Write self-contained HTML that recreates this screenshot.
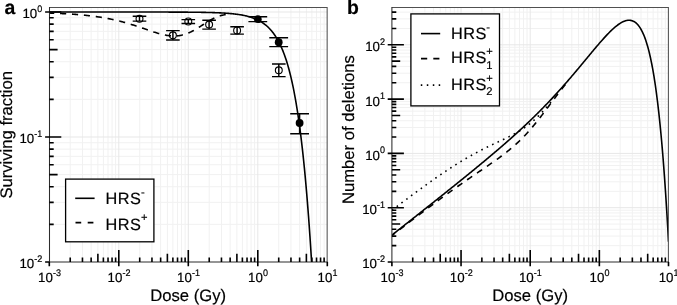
<!DOCTYPE html>
<html lang="en"><head><meta charset="utf-8"><title>HRS figure</title>
<style>
html,body{margin:0;padding:0;background:#fff}
svg{display:block}
text{font-family:"Liberation Sans",sans-serif;fill:#000;stroke:#000;stroke-width:0.18;text-rendering:geometricPrecision}
.g1{stroke:#f1f1f1;stroke-width:1}
.g2{stroke:#e7e7e7;stroke-width:1}
.tk{stroke:#000;stroke-width:1.6}
.cv{fill:none;stroke:#000;stroke-width:1.6;stroke-linejoin:round}
.eb{stroke:#000;stroke-width:1.45;fill:none}
</style></head><body>

<svg width="677" height="305" viewBox="0 0 677 305">
<rect width="677" height="305" fill="#fff"/>

<g id="pa">
<clipPath id="clip-pa"><rect x="49.3" y="7.5" width="278" height="254.5"/></clipPath>
<path class="g1" d="M70.22 7.5V262M82.46 7.5V262M91.14 7.5V262M97.88 7.5V262M103.38 7.5V262M108.03 7.5V262M112.06 7.5V262M115.62 7.5V262M139.72 7.5V262M151.96 7.5V262M160.64 7.5V262M167.38 7.5V262M172.88 7.5V262M177.53 7.5V262M181.56 7.5V262M185.12 7.5V262M209.22 7.5V262M221.46 7.5V262M230.14 7.5V262M236.88 7.5V262M242.38 7.5V262M247.03 7.5V262M251.06 7.5V262M254.62 7.5V262M278.72 7.5V262M290.96 7.5V262M299.64 7.5V262M306.38 7.5V262M311.88 7.5V262M316.53 7.5V262M320.56 7.5V262M324.12 7.5V262M49.3 224.37H327.3M49.3 202.36H327.3M49.3 186.74H327.3M49.3 174.63H327.3M49.3 164.73H327.3M49.3 156.36H327.3M49.3 149.11H327.3M49.3 142.72H327.3M49.3 99.37H327.3M49.3 77.36H327.3M49.3 61.74H327.3M49.3 49.63H327.3M49.3 39.73H327.3M49.3 31.36H327.3M49.3 24.11H327.3M49.3 17.72H327.3"/>
<path class="g2" d="M118.8 7.5V262M188.3 7.5V262M257.8 7.5V262M49.3 137H327.3M49.3 12H327.3"/>
<g clip-path="url(#clip-pa)">
<path class="cv" d="M49.3 12L49.99 12L50.69 12L51.38 12L52.08 12L52.77 12L53.47 12L54.16 12L54.86 12L55.55 12L56.25 12L56.94 12L57.64 12L58.33 12L59.03 12L59.72 12L60.42 12L61.11 12L61.81 12L62.5 12L63.2 12L63.89 12L64.59 12L65.28 12L65.98 12L66.67 12L67.37 12L68.06 12L68.76 12L69.45 12L70.15 12L70.84 12L71.54 12L72.23 12L72.93 12L73.62 12L74.32 12L75.02 12L75.71 12L76.41 12L77.1 12L77.8 12L78.49 12L79.19 12L79.88 12L80.58 12L81.27 12L81.97 12L82.66 12L83.36 12L84.05 12L84.74 12L85.44 12L86.14 12L86.83 12L87.52 12L88.22 12L88.92 12L89.61 12L90.3 12L91 12L91.69 12L92.39 12L93.08 12L93.78 12L94.47 12L95.17 12.01L95.86 12.01L96.56 12.01L97.25 12.01L97.95 12.01L98.64 12.01L99.34 12.01L100.03 12.01L100.73 12.01L101.42 12.01L102.12 12.01L102.81 12.01L103.51 12.01L104.2 12.01L104.9 12.01L105.59 12.01L106.29 12.01L106.98 12.01L107.68 12.01L108.38 12.01L109.07 12.01L109.77 12.01L110.46 12.01L111.16 12.01L111.85 12.01L112.55 12.01L113.24 12.01L113.94 12.01L114.63 12.01L115.33 12.01L116.02 12.01L116.71 12.01L117.41 12.01L118.11 12.01L118.8 12.01L119.5 12.01L120.19 12.01L120.89 12.01L121.58 12.01L122.28 12.01L122.97 12.01L123.67 12.01L124.36 12.01L125.06 12.01L125.75 12.01L126.45 12.02L127.14 12.02L127.84 12.02L128.53 12.02L129.23 12.02L129.92 12.02L130.62 12.02L131.31 12.02L132 12.02L132.7 12.02L133.39 12.02L134.09 12.02L134.78 12.02L135.48 12.02L136.18 12.02L136.87 12.02L137.56 12.02L138.26 12.02L138.95 12.02L139.65 12.02L140.34 12.03L141.04 12.03L141.74 12.03L142.43 12.03L143.12 12.03L143.82 12.03L144.51 12.03L145.21 12.03L145.91 12.03L146.6 12.03L147.29 12.03L147.99 12.03L148.69 12.03L149.38 12.04L150.07 12.04L150.77 12.04L151.46 12.04L152.16 12.04L152.85 12.04L153.55 12.04L154.25 12.04L154.94 12.04L155.63 12.04L156.33 12.05L157.03 12.05L157.72 12.05L158.42 12.05L159.11 12.05L159.81 12.05L160.5 12.05L161.19 12.06L161.89 12.06L162.59 12.06L163.28 12.06L163.98 12.06L164.67 12.06L165.37 12.07L166.06 12.07L166.75 12.07L167.45 12.07L168.14 12.07L168.84 12.08L169.53 12.08L170.23 12.08L170.93 12.08L171.62 12.09L172.31 12.09L173.01 12.09L173.7 12.09L174.4 12.1L175.09 12.1L175.79 12.1L176.49 12.1L177.18 12.11L177.88 12.11L178.57 12.11L179.26 12.12L179.96 12.12L180.66 12.13L181.35 12.13L182.05 12.13L182.74 12.14L183.44 12.14L184.13 12.15L184.82 12.15L185.52 12.16L186.21 12.16L186.91 12.17L187.61 12.17L188.3 12.18L189 12.18L189.69 12.19L190.38 12.2L191.08 12.2L191.77 12.21L192.47 12.22L193.16 12.22L193.86 12.23L194.56 12.24L195.25 12.25L195.94 12.25L196.64 12.26L197.33 12.27L198.03 12.28L198.72 12.29L199.42 12.3L200.12 12.31L200.81 12.32L201.5 12.33L202.2 12.35L202.89 12.36L203.59 12.37L204.28 12.38L204.98 12.4L205.68 12.41L206.37 12.43L207.06 12.44L207.76 12.46L208.45 12.47L209.15 12.49L209.85 12.51L210.54 12.53L211.24 12.55L211.93 12.57L212.62 12.59L213.32 12.61L214.01 12.63L214.71 12.66L215.41 12.68L216.1 12.71L216.8 12.73L217.49 12.76L218.19 12.79L218.88 12.82L219.57 12.85L220.27 12.89L220.97 12.92L221.66 12.96L222.36 12.99L223.05 13.03L223.75 13.07L224.44 13.12L225.13 13.16L225.83 13.21L226.53 13.25L227.22 13.3L227.91 13.36L228.61 13.41L229.31 13.47L230 13.52L230.69 13.59L231.39 13.65L232.08 13.72L232.78 13.79L233.47 13.86L234.17 13.94L234.87 14.02L235.56 14.1L236.25 14.19L236.95 14.28L237.64 14.37L238.34 14.47L239.03 14.57L239.73 14.68L240.43 14.79L241.12 14.91L241.81 15.03L242.51 15.16L243.2 15.29L243.9 15.43L244.6 15.58L245.29 15.73L245.99 15.89L246.68 16.05L247.38 16.22L248.07 16.4L248.76 16.59L249.46 16.79L250.16 17L250.85 17.21L251.55 17.44L252.24 17.67L252.94 17.92L253.63 18.18L254.32 18.44L255.02 18.72L255.72 19.02L256.41 19.32L257.11 19.65L257.8 19.98L258.5 20.33L259.19 20.7L259.88 21.08L260.58 21.48L261.28 21.9L261.97 22.34L262.67 22.79L263.36 23.27L264.06 23.77L264.75 24.29L265.44 24.84L266.14 25.41L266.83 26.01L267.53 26.64L268.22 27.29L268.92 27.97L269.62 28.69L270.31 29.44L271 30.22L271.7 31.04L272.39 31.9L273.09 32.79L273.78 33.73L274.48 34.71L275.18 35.73L275.87 36.81L276.56 37.93L277.26 39.1L277.95 40.33L278.65 41.61L279.35 42.96L280.04 44.36L280.74 45.83L281.43 47.37L282.12 48.98L282.82 50.67L283.51 52.43L284.21 54.28L284.91 56.21L285.6 58.23L286.3 60.34L286.99 62.55L287.69 64.87L288.38 67.29L289.07 69.82L289.77 72.48L290.47 75.25L291.16 78.16L291.86 81.2L292.55 84.38L293.25 87.71L293.94 91.19L294.63 94.84L295.33 98.65L296.03 102.65L296.72 106.83L297.42 111.2L298.11 115.78L298.81 120.58L299.5 125.59L300.19 130.84L300.89 136.34L301.58 142.09L302.28 148.11L302.97 154.41L303.67 161.01L304.37 167.91L305.06 175.14L305.75 182.7L306.45 190.62L307.14 198.91L307.84 207.59L308.54 216.67L309.23 226.17L309.93 236.13L310.62 246.54L311.31 257.45L312.01 268.86L312.71 280.81L313.4 293.32"/>
<path class="cv" stroke-dasharray="6.15 5.8" stroke-dashoffset="1.2" d="M49.3 13.03L49.99 13.05L50.69 13.08L51.38 13.1L52.08 13.13L52.77 13.15L53.47 13.18L54.16 13.21L54.86 13.24L55.55 13.26L56.25 13.29L56.94 13.32L57.64 13.35L58.33 13.38L59.03 13.41L59.72 13.45L60.42 13.48L61.11 13.51L61.81 13.55L62.5 13.58L63.2 13.62L63.89 13.66L64.59 13.69L65.28 13.73L65.98 13.77L66.67 13.81L67.37 13.85L68.06 13.89L68.76 13.94L69.45 13.98L70.15 14.02L70.84 14.07L71.54 14.12L72.23 14.16L72.93 14.21L73.62 14.26L74.32 14.31L75.02 14.37L75.71 14.42L76.41 14.47L77.1 14.53L77.8 14.58L78.49 14.64L79.19 14.7L79.88 14.76L80.58 14.82L81.27 14.88L81.97 14.95L82.66 15.01L83.36 15.08L84.05 15.15L84.74 15.22L85.44 15.29L86.14 15.36L86.83 15.44L87.52 15.51L88.22 15.59L88.92 15.67L89.61 15.75L90.3 15.83L91 15.91L91.69 16L92.39 16.08L93.08 16.17L93.78 16.26L94.47 16.36L95.17 16.45L95.86 16.55L96.56 16.64L97.25 16.74L97.95 16.84L98.64 16.95L99.34 17.05L100.03 17.16L100.73 17.27L101.42 17.38L102.12 17.5L102.81 17.61L103.51 17.73L104.2 17.85L104.9 17.97L105.59 18.1L106.29 18.22L106.98 18.35L107.68 18.48L108.38 18.62L109.07 18.75L109.77 18.89L110.46 19.03L111.16 19.18L111.85 19.32L112.55 19.47L113.24 19.62L113.94 19.78L114.63 19.93L115.33 20.09L116.02 20.25L116.71 20.41L117.41 20.58L118.11 20.75L118.8 20.92L119.5 21.09L120.19 21.27L120.89 21.45L121.58 21.63L122.28 21.81L122.97 22L123.67 22.19L124.36 22.38L125.06 22.57L125.75 22.77L126.45 22.97L127.14 23.17L127.84 23.37L128.53 23.58L129.23 23.79L129.92 24L130.62 24.21L131.31 24.43L132 24.65L132.7 24.87L133.39 25.09L134.09 25.31L134.78 25.54L135.48 25.76L136.18 25.99L136.87 26.22L137.56 26.46L138.26 26.69L138.95 26.92L139.65 27.16L140.34 27.4L141.04 27.64L141.74 27.88L142.43 28.12L143.12 28.36L143.82 28.6L144.51 28.84L145.21 29.08L145.91 29.32L146.6 29.56L147.29 29.81L147.99 30.05L148.69 30.28L149.38 30.52L150.07 30.76L150.77 30.99L151.46 31.23L152.16 31.46L152.85 31.69L153.55 31.92L154.25 32.14L154.94 32.36L155.63 32.58L156.33 32.79L157.03 33L157.72 33.21L158.42 33.41L159.11 33.6L159.81 33.79L160.5 33.98L161.19 34.16L161.89 34.33L162.59 34.5L163.28 34.66L163.98 34.81L164.67 34.95L165.37 35.09L166.06 35.22L166.75 35.34L167.45 35.45L168.14 35.55L168.84 35.64L169.53 35.72L170.23 35.79L170.93 35.85L171.62 35.89L172.31 35.93L173.01 35.95L173.7 35.97L174.4 35.96L175.09 35.95L175.79 35.93L176.49 35.89L177.18 35.83L177.88 35.77L178.57 35.68L179.26 35.59L179.96 35.48L180.66 35.36L181.35 35.22L182.05 35.07L182.74 34.9L183.44 34.72L184.13 34.52L184.82 34.31L185.52 34.08L186.21 33.84L186.91 33.59L187.61 33.32L188.3 33.04L189 32.74L189.69 32.43L190.38 32.11L191.08 31.78L191.77 31.43L192.47 31.08L193.16 30.71L193.86 30.33L194.56 29.94L195.25 29.54L195.94 29.14L196.64 28.72L197.33 28.3L198.03 27.87L198.72 27.44L199.42 27L200.12 26.56L200.81 26.11L201.5 25.67L202.2 25.22L202.89 24.77L203.59 24.32L204.28 23.87L204.98 23.43L205.68 22.98L206.37 22.55L207.06 22.11L207.76 21.68L208.45 21.26L209.15 20.85L209.85 20.45L210.54 20.05L211.24 19.66L211.93 19.29L212.62 18.92L213.32 18.57L214.01 18.23L214.71 17.9L215.41 17.58L216.1 17.28L216.8 16.99L217.49 16.72L218.19 16.46L218.88 16.21L219.57 15.98L220.27 15.77L220.97 15.57L221.66 15.38L222.36 15.21L223.05 15.05L223.75 14.91L224.44 14.78L225.13 14.66L225.83 14.56"/>
</g>
<path class="eb" d="M139.5 16.3V21.1M132.7 16.3H146.3M132.7 21.1H146.3M172.9 30.6V40M166.1 30.6H179.7M166.1 40H179.7M188.3 19.6V23.4M181.5 19.6H195.1M181.5 23.4H195.1M209.1 20.2V29.1M202.3 20.2H215.9M202.3 29.1H215.9M237.1 26.8V34.1M230.3 26.8H243.9M230.3 34.1H243.9M278.8 64V76.6M272 64H285.6M272 76.6H285.6M257.8 16.8V21.6M248.4 16.8H267.2M248.4 21.6H267.2M278.7 37.8V46.6M269.3 37.8H288.1M269.3 46.6H288.1M299.6 113.8V133.7M290.2 113.8H309M290.2 133.7H309"/>
<circle cx="139.5" cy="18.8" r="3.45" fill="none" stroke="#000" stroke-width="1.1"/>
<circle cx="172.9" cy="35.3" r="3.45" fill="none" stroke="#000" stroke-width="1.1"/>
<circle cx="188.3" cy="21.5" r="3.45" fill="none" stroke="#000" stroke-width="1.1"/>
<circle cx="209.1" cy="24.6" r="3.45" fill="none" stroke="#000" stroke-width="1.1"/>
<circle cx="237.1" cy="30.5" r="3.45" fill="none" stroke="#000" stroke-width="1.1"/>
<circle cx="278.8" cy="70.3" r="3.45" fill="none" stroke="#000" stroke-width="1.1"/>
<circle cx="257.8" cy="19.2" r="3.9" fill="#000"/>
<circle cx="278.7" cy="42.2" r="3.9" fill="#000"/>
<circle cx="299.6" cy="123" r="3.9" fill="#000"/>
<path d="M49.5 7.5H327.15V262" fill="none" stroke="#505050" stroke-width="1.05"/>
<path d="M49.5 7V262H327.65" fill="none" stroke="#2c2c2c" stroke-width="1.05"/>
<path class="tk" d="M49.3 266.2V262M70.22 262V257.6M82.46 262V257.6M91.14 262V257.6M97.88 262V253.7M103.38 262V257.6M108.03 262V257.6M112.06 262V257.6M115.62 262V257.6M118.8 266.2V250M139.72 262V257.6M151.96 262V257.6M160.64 262V257.6M167.38 262V253.7M172.88 262V257.6M177.53 262V257.6M181.56 262V257.6M185.12 262V257.6M188.3 266.2V250M209.22 262V257.6M221.46 262V257.6M230.14 262V257.6M236.88 262V253.7M242.38 262V257.6M247.03 262V257.6M251.06 262V257.6M254.62 262V257.6M257.8 266.2V250M278.72 262V257.6M290.96 262V257.6M299.64 262V257.6M306.38 262V253.7M311.88 262V257.6M316.53 262V257.6M320.56 262V257.6M324.12 262V257.6M327.3 266.2V262M45.1 262H49.3M49.3 224.37H53.7M49.3 202.36H53.7M49.3 186.74H53.7M49.3 174.63H57.6M49.3 164.73H53.7M49.3 156.36H53.7M49.3 149.11H53.7M49.3 142.72H53.7M45.1 137H61.3M49.3 99.37H53.7M49.3 77.36H53.7M49.3 61.74H53.7M49.3 49.63H57.6M49.3 39.73H53.7M49.3 31.36H53.7M49.3 24.11H53.7M49.3 17.72H53.7M45.1 12H61.3"/>
<rect x="65.6" y="179.1" width="88.3" height="62.7" fill="#fff" stroke="#000" stroke-width="1.3"/>
<path class="cv" d="M75.2 198.3H94.6"/>
<path class="cv" d="M75.5 222.6H81.2M87.7 222.6H93.4"/>
<text x="105.5" y="204.3" font-size="16.3" letter-spacing="0.5">HRS<tspan font-size="11.2" x="140.9" dy="-8.5">-</tspan></text>
<text x="105.5" y="229.5" font-size="16.3" letter-spacing="0.5">HRS<tspan font-size="11.2" x="140.9" dy="-8.2">+</tspan></text>
<text x="38" y="281.9" font-size="13.3">10</text><text transform="translate(52.89 276.2) scale(1 1.06)" font-size="9.0">-3</text>
<text x="107.5" y="281.9" font-size="13.3">10</text><text transform="translate(122.39 276.2) scale(1 1.06)" font-size="9.0">-2</text>
<text x="177" y="281.9" font-size="13.3">10</text><text transform="translate(191.89 276.2) scale(1 1.06)" font-size="9.0">-1</text>
<text x="248" y="281.9" font-size="13.3">10</text><text transform="translate(262.89 276.2) scale(1 1.06)" font-size="9.0">0</text>
<text x="317.5" y="281.9" font-size="13.3">10</text><text transform="translate(332.39 276.2) scale(1 1.06)" font-size="9.0">1</text>
<text x="19.41" y="268.4" font-size="13.3">10</text><text transform="translate(34.3 261.8) scale(1 1.06)" font-size="9.0">-2</text>
<text x="19.41" y="143.4" font-size="13.3">10</text><text transform="translate(34.3 136.8) scale(1 1.06)" font-size="9.0">-1</text>
<text x="22.41" y="18.4" font-size="13.3">10</text><text transform="translate(37.3 11.8) scale(1 1.06)" font-size="9.0">0</text>
<text x="188.1" y="301.1" font-size="16.65" text-anchor="middle">Dose (Gy)</text>
<text transform="translate(12.3 134.8) rotate(-90)" font-size="16.65" text-anchor="middle">Surviving fraction</text>
<text x="4.4" y="13.7" font-size="19.4" font-weight="bold">a</text>
</g>
<g id="pb">
<clipPath id="clip-pb"><rect x="391.9" y="7.4" width="276.5" height="254.6"/></clipPath>
<path class="g1" d="M412.72 7.4V262M424.89 7.4V262M433.53 7.4V262M440.23 7.4V262M445.71 7.4V262M450.34 7.4V262M454.35 7.4V262M457.89 7.4V262M481.87 7.4V262M494.04 7.4V262M502.68 7.4V262M509.38 7.4V262M514.86 7.4V262M519.49 7.4V262M523.5 7.4V262M527.04 7.4V262M551.02 7.4V262M563.19 7.4V262M571.83 7.4V262M578.53 7.4V262M584.01 7.4V262M588.64 7.4V262M592.65 7.4V262M596.19 7.4V262M620.17 7.4V262M632.34 7.4V262M640.98 7.4V262M647.68 7.4V262M653.16 7.4V262M657.79 7.4V262M661.8 7.4V262M665.34 7.4V262M391.9 245.65H668.4M391.9 236.09H668.4M391.9 229.31H668.4M391.9 224.05H668.4M391.9 219.75H668.4M391.9 216.11H668.4M391.9 212.96H668.4M391.9 210.18H668.4M391.9 191.35H668.4M391.9 181.79H668.4M391.9 175.01H668.4M391.9 169.75H668.4M391.9 165.45H668.4M391.9 161.81H668.4M391.9 158.66H668.4M391.9 155.88H668.4M391.9 137.05H668.4M391.9 127.49H668.4M391.9 120.71H668.4M391.9 115.45H668.4M391.9 111.15H668.4M391.9 107.51H668.4M391.9 104.36H668.4M391.9 101.58H668.4M391.9 82.75H668.4M391.9 73.19H668.4M391.9 66.41H668.4M391.9 61.15H668.4M391.9 56.85H668.4M391.9 53.21H668.4M391.9 50.06H668.4M391.9 47.28H668.4M391.9 28.45H668.4M391.9 18.89H668.4M391.9 12.11H668.4"/>
<path class="g2" d="M461.05 7.4V262M530.2 7.4V262M599.35 7.4V262M391.9 207.7H668.4M391.9 153.4H668.4M391.9 99.1H668.4M391.9 44.8H668.4"/>
<g clip-path="url(#clip-pb)">
<path class="cv" stroke-dasharray="1.6 4.4" d="M391.9 210.33L392.59 209.8L393.28 209.28L393.97 208.75L394.67 208.22L395.36 207.7L396.05 207.17L396.74 206.65L397.43 206.12L398.12 205.6L398.81 205.07L399.51 204.55L400.2 204.03L400.89 203.5L401.58 202.98L402.27 202.46L402.96 201.94L403.66 201.42L404.35 200.9L405.04 200.38L405.73 199.86L406.42 199.34L407.11 198.82L407.8 198.3L408.5 197.79L409.19 197.27L409.88 196.75L410.57 196.24L411.26 195.72L411.95 195.21L412.64 194.7L413.34 194.18L414.03 193.67L414.72 193.16L415.41 192.65L416.1 192.14L416.79 191.63L417.49 191.12L418.18 190.61L418.87 190.11L419.56 189.6L420.25 189.1L420.94 188.59L421.63 188.09L422.33 187.58L423.02 187.08L423.71 186.58L424.4 186.08L425.09 185.58L425.78 185.08L426.47 184.59L427.17 184.09L427.86 183.59L428.55 183.1L429.24 182.61L429.93 182.11L430.62 181.62L431.32 181.13L432.01 180.64L432.7 180.15L433.39 179.67L434.08 179.18L434.77 178.7L435.46 178.21L436.16 177.73L436.85 177.25L437.54 176.77L438.23 176.29L438.92 175.82L439.61 175.34L440.31 174.87L441 174.4L441.69 173.93L442.38 173.46L443.07 172.99L443.76 172.52L444.45 172.06L445.15 171.59L445.84 171.13L446.53 170.67L447.22 170.21L447.91 169.75L448.6 169.3L449.29 168.84L449.99 168.39L450.68 167.94L451.37 167.49L452.06 167.05L452.75 166.6L453.44 166.16L454.13 165.72L454.83 165.28L455.52 164.84L456.21 164.41L456.9 163.97L457.59 163.54L458.28 163.11L458.98 162.68L459.67 162.26L460.36 161.84L461.05 161.41L461.74 161L462.43 160.58L463.12 160.16L463.82 159.75L464.51 159.34L465.2 158.93L465.89 158.53L466.58 158.12L467.27 157.72L467.96 157.32L468.66 156.93L469.35 156.53L470.04 156.14L470.73 155.75L471.42 155.36L472.11 154.98L472.81 154.59L473.5 154.21L474.19 153.83L474.88 153.46L475.57 153.08L476.26 152.71L476.95 152.34L477.65 151.98L478.34 151.61L479.03 151.25L479.72 150.89L480.41 150.53L481.1 150.17L481.79 149.82L482.49 149.47L483.18 149.12L483.87 148.77L484.56 148.42L485.25 148.08L485.94 147.74L486.64 147.4L487.33 147.06L488.02 146.72L488.71 146.38L489.4 146.05L490.09 145.72L490.78 145.39L491.48 145.06L492.17 144.73L492.86 144.4L493.55 144.07L494.24 143.75L494.93 143.42L495.62 143.1L496.32 142.77L497.01 142.45L497.7 142.13L498.39 141.8L499.08 141.48L499.77 141.16L500.47 140.83L501.16 140.51L501.85 140.18L502.54 139.86L503.23 139.53L503.92 139.2L504.61 138.87L505.31 138.54L506 138.2L506.69 137.87L507.38 137.53L508.07 137.19L508.76 136.85L509.45 136.5L510.15 136.15L510.84 135.8L511.53 135.44L512.22 135.08L512.91 134.71L513.6 134.34L514.3 133.97L514.99 133.59L515.68 133.21L516.37 132.82L517.06 132.42L517.75 132.02L518.44 131.61L519.14 131.19L519.83 130.77L520.52 130.34L521.21 129.9L521.9 129.46L522.59 129L523.28 128.54L523.98 128.07L524.67 127.59L525.36 127.11L526.05 126.61L526.74 126.1L527.43 125.59L528.13 125.06L528.82 124.52L529.51 123.98L530.2 123.42L530.89 122.86L531.58 122.28L532.27 121.69L532.97 121.09L533.66 120.48L534.35 119.86L535.04 119.23L535.73 118.59L536.42 117.94L537.12 117.28L537.81 116.6L538.5 115.92L539.19 115.23L539.88 114.52L540.57 113.81L541.26 113.08L541.96 112.35L542.65 111.6L543.34 110.85L544.03 110.09L544.72 109.32L545.41 108.54L546.1 107.76L546.8 106.97L547.49 106.17L548.18 105.36L548.87 104.55L549.56 103.73L550.25 102.91L550.95 102.08"/>
<path class="cv" stroke-dasharray="6.2 5.8" stroke-dashoffset="2.4" d="M391.9 235.55L392.59 235.01L393.28 234.48L393.97 233.94L394.67 233.41L395.36 232.88L396.05 232.34L396.74 231.81L397.43 231.28L398.12 230.74L398.81 230.21L399.51 229.68L400.2 229.15L400.89 228.62L401.58 228.08L402.27 227.55L402.96 227.02L403.66 226.49L404.35 225.96L405.04 225.43L405.73 224.9L406.42 224.37L407.11 223.84L407.8 223.31L408.5 222.78L409.19 222.26L409.88 221.73L410.57 221.2L411.26 220.67L411.95 220.15L412.64 219.62L413.34 219.09L414.03 218.57L414.72 218.04L415.41 217.52L416.1 216.99L416.79 216.47L417.49 215.94L418.18 215.42L418.87 214.89L419.56 214.37L420.25 213.85L420.94 213.33L421.63 212.81L422.33 212.28L423.02 211.76L423.71 211.24L424.4 210.72L425.09 210.2L425.78 209.68L426.47 209.17L427.17 208.65L427.86 208.13L428.55 207.61L429.24 207.1L429.93 206.58L430.62 206.07L431.32 205.55L432.01 205.04L432.7 204.52L433.39 204.01L434.08 203.5L434.77 202.99L435.46 202.48L436.16 201.97L436.85 201.46L437.54 200.95L438.23 200.44L438.92 199.93L439.61 199.42L440.31 198.92L441 198.41L441.69 197.9L442.38 197.4L443.07 196.9L443.76 196.39L444.45 195.89L445.15 195.39L445.84 194.89L446.53 194.39L447.22 193.89L447.91 193.39L448.6 192.89L449.29 192.39L449.99 191.9L450.68 191.4L451.37 190.91L452.06 190.41L452.75 189.92L453.44 189.42L454.13 188.93L454.83 188.44L455.52 187.95L456.21 187.46L456.9 186.97L457.59 186.48L458.28 186L458.98 185.51L459.67 185.03L460.36 184.54L461.05 184.06L461.74 183.57L462.43 183.09L463.12 182.61L463.82 182.13L464.51 181.65L465.2 181.17L465.89 180.69L466.58 180.21L467.27 179.73L467.96 179.26L468.66 178.78L469.35 178.3L470.04 177.83L470.73 177.36L471.42 176.88L472.11 176.41L472.81 175.93L473.5 175.46L474.19 174.99L474.88 174.52L475.57 174.05L476.26 173.58L476.95 173.11L477.65 172.64L478.34 172.17L479.03 171.7L479.72 171.23L480.41 170.76L481.1 170.29L481.79 169.82L482.49 169.35L483.18 168.87L483.87 168.4L484.56 167.93L485.25 167.46L485.94 166.99L486.64 166.52L487.33 166.04L488.02 165.57L488.71 165.09L489.4 164.62L490.09 164.14L490.78 163.66L491.48 163.18L492.17 162.7L492.86 162.22L493.55 161.73L494.24 161.24L494.93 160.76L495.62 160.27L496.32 159.77L497.01 159.28L497.7 158.78L498.39 158.28L499.08 157.78L499.77 157.27L500.47 156.76L501.16 156.25L501.85 155.74L502.54 155.22L503.23 154.69L503.92 154.17L504.61 153.64L505.31 153.1L506 152.56L506.69 152.02L507.38 151.47L508.07 150.92L508.76 150.36L509.45 149.79L510.15 149.22L510.84 148.65L511.53 148.06L512.22 147.48L512.91 146.88L513.6 146.28L514.3 145.68L514.99 145.06L515.68 144.44L516.37 143.81L517.06 143.18L517.75 142.54L518.44 141.89L519.14 141.23L519.83 140.57L520.52 139.89L521.21 139.21L521.9 138.52L522.59 137.83L523.28 137.12L523.98 136.41L524.67 135.69L525.36 134.96L526.05 134.22L526.74 133.47L527.43 132.72L528.13 131.95L528.82 131.18L529.51 130.4L530.2 129.61L530.89 128.82L531.58 128.01L532.27 127.2L532.97 126.38L533.66 125.55L534.35 124.72L535.04 123.88L535.73 123.03L536.42 122.17L537.12 121.31L537.81 120.45L538.5 119.57L539.19 118.69L539.88 117.81L540.57 116.92L541.26 116.02L541.96 115.12L542.65 114.22L543.34 113.32L544.03 112.41L544.72 111.49L545.41 110.58L546.1 109.66L546.8 108.74L547.49 107.82L548.18 106.9L548.87 105.98L549.56 105.06L550.25 104.13L550.95 103.21L551.64 102.29L552.33 101.37L553.02 100.45L553.71 99.53L554.4 98.62L555.09 97.7L555.79 96.79L556.48 95.88L557.17 94.97L557.86 94.07L558.55 93.17L559.24 92.27L559.93 91.38L560.63 90.49L561.32 89.6L562.01 88.71L562.7 87.83L563.39 86.95L564.08 86.08L564.77 85.21L565.47 84.34"/>
<path class="cv" d="M391.9 235.1L392.59 234.55L393.28 234.01L393.97 233.46L394.67 232.92L395.36 232.38L396.05 231.83L396.74 231.29L397.43 230.74L398.12 230.2L398.81 229.65L399.51 229.11L400.2 228.56L400.89 228.02L401.58 227.47L402.27 226.93L402.96 226.38L403.66 225.83L404.35 225.29L405.04 224.74L405.73 224.2L406.42 223.65L407.11 223.11L407.8 222.56L408.5 222.02L409.19 221.47L409.88 220.92L410.57 220.38L411.26 219.83L411.95 219.29L412.64 218.74L413.34 218.19L414.03 217.65L414.72 217.1L415.41 216.55L416.1 216.01L416.79 215.46L417.49 214.92L418.18 214.37L418.87 213.82L419.56 213.27L420.25 212.73L420.94 212.18L421.63 211.63L422.33 211.09L423.02 210.54L423.71 209.99L424.4 209.44L425.09 208.9L425.78 208.35L426.47 207.8L427.17 207.25L427.86 206.7L428.55 206.16L429.24 205.61L429.93 205.06L430.62 204.51L431.32 203.96L432.01 203.41L432.7 202.86L433.39 202.31L434.08 201.76L434.77 201.22L435.46 200.67L436.16 200.12L436.85 199.57L437.54 199.02L438.23 198.47L438.92 197.92L439.61 197.36L440.31 196.81L441 196.26L441.69 195.71L442.38 195.16L443.07 194.61L443.76 194.06L444.45 193.51L445.15 192.95L445.84 192.4L446.53 191.85L447.22 191.3L447.91 190.74L448.6 190.19L449.29 189.64L449.99 189.08L450.68 188.53L451.37 187.97L452.06 187.42L452.75 186.87L453.44 186.31L454.13 185.76L454.83 185.2L455.52 184.64L456.21 184.09L456.9 183.53L457.59 182.98L458.28 182.42L458.98 181.86L459.67 181.3L460.36 180.75L461.05 180.19L461.74 179.63L462.43 179.07L463.12 178.51L463.82 177.95L464.51 177.39L465.2 176.83L465.89 176.27L466.58 175.71L467.27 175.15L467.96 174.58L468.66 174.02L469.35 173.46L470.04 172.9L470.73 172.33L471.42 171.77L472.11 171.2L472.81 170.64L473.5 170.07L474.19 169.51L474.88 168.94L475.57 168.37L476.26 167.8L476.95 167.23L477.65 166.67L478.34 166.1L479.03 165.53L479.72 164.96L480.41 164.38L481.1 163.81L481.79 163.24L482.49 162.67L483.18 162.09L483.87 161.52L484.56 160.94L485.25 160.37L485.94 159.79L486.64 159.21L487.33 158.63L488.02 158.06L488.71 157.48L489.4 156.9L490.09 156.31L490.78 155.73L491.48 155.15L492.17 154.57L492.86 153.98L493.55 153.4L494.24 152.81L494.93 152.22L495.62 151.63L496.32 151.04L497.01 150.45L497.7 149.86L498.39 149.27L499.08 148.68L499.77 148.08L500.47 147.49L501.16 146.89L501.85 146.29L502.54 145.69L503.23 145.09L503.92 144.49L504.61 143.89L505.31 143.29L506 142.68L506.69 142.08L507.38 141.47L508.07 140.86L508.76 140.25L509.45 139.64L510.15 139.03L510.84 138.41L511.53 137.8L512.22 137.18L512.91 136.56L513.6 135.94L514.3 135.32L514.99 134.7L515.68 134.07L516.37 133.45L517.06 132.82L517.75 132.19L518.44 131.56L519.14 130.92L519.83 130.29L520.52 129.65L521.21 129.02L521.9 128.38L522.59 127.73L523.28 127.09L523.98 126.45L524.67 125.8L525.36 125.15L526.05 124.5L526.74 123.85L527.43 123.19L528.13 122.53L528.82 121.87L529.51 121.21L530.2 120.55L530.89 119.89L531.58 119.22L532.27 118.55L532.97 117.88L533.66 117.2L534.35 116.53L535.04 115.85L535.73 115.17L536.42 114.48L537.12 113.8L537.81 113.11L538.5 112.42L539.19 111.73L539.88 111.03L540.57 110.34L541.26 109.64L541.96 108.94L542.65 108.23L543.34 107.52L544.03 106.81L544.72 106.1L545.41 105.39L546.1 104.67L546.8 103.95L547.49 103.23L548.18 102.5L548.87 101.78L549.56 101.05L550.25 100.31L550.95 99.58L551.64 98.84L552.33 98.1L553.02 97.36L553.71 96.61L554.4 95.86L555.09 95.11L555.79 94.36L556.48 93.6L557.17 92.85L557.86 92.08L558.55 91.32L559.24 90.55L559.93 89.78L560.63 89.01L561.32 88.24L562.01 87.46L562.7 86.68L563.39 85.9L564.08 85.12L564.77 84.33L565.47 83.54L566.16 82.75L566.85 81.96L567.54 81.16L568.23 80.36L568.92 79.56L569.62 78.76L570.31 77.95L571 77.15L571.69 76.34L572.38 75.53L573.07 74.71L573.76 73.9L574.46 73.08L575.15 72.26L575.84 71.44L576.53 70.62L577.22 69.8L577.91 68.97L578.61 68.15L579.3 67.32L579.99 66.49L580.68 65.66L581.37 64.83L582.06 64L582.75 63.17L583.45 62.33L584.14 61.5L584.83 60.67L585.52 59.83L586.21 59L586.9 58.16L587.59 57.33L588.29 56.5L588.98 55.66L589.67 54.83L590.36 54L591.05 53.17L591.74 52.34L592.43 51.51L593.13 50.68L593.82 49.85L594.51 49.03L595.2 48.21L595.89 47.39L596.58 46.58L597.28 45.76L597.97 44.95L598.66 44.15L599.35 43.35L600.04 42.55L600.73 41.76L601.42 40.97L602.12 40.19L602.81 39.41L603.5 38.64L604.19 37.87L604.88 37.11L605.57 36.36L606.26 35.62L606.96 34.89L607.65 34.16L608.34 33.45L609.03 32.74L609.72 32.04L610.41 31.36L611.11 30.69L611.8 30.03L612.49 29.38L613.18 28.74L613.87 28.12L614.56 27.52L615.25 26.93L615.95 26.36L616.64 25.81L617.33 25.28L618.02 24.76L618.71 24.27L619.4 23.8L620.1 23.35L620.79 22.92L621.48 22.53L622.17 22.15L622.86 21.81L623.55 21.5L624.24 21.21L624.94 20.96L625.63 20.75L626.32 20.56L627.01 20.42L627.7 20.32L628.39 20.25L629.08 20.24L629.78 20.26L630.47 20.34L631.16 20.46L631.85 20.64L632.54 20.87L633.23 21.16L633.92 21.5L634.62 21.92L635.31 22.4L636 22.94L636.69 23.56L637.38 24.26L638.07 25.04L638.77 25.9L639.46 26.85L640.15 27.89L640.84 29.02L641.53 30.26L642.22 31.6L642.91 33.06L643.61 34.62L644.3 36.31L644.99 38.13L645.68 40.08L646.37 42.17L647.06 44.41L647.75 46.8L648.45 49.34L649.14 52.06L649.83 54.95L650.52 58.03L651.21 61.3L651.9 64.77L652.6 68.45L653.29 72.35L653.98 76.48L654.67 80.86L655.36 85.49L656.05 90.38L656.74 95.56L657.44 101.02L658.13 106.79L658.82 112.88L659.51 119.31L660.2 126.09L660.89 133.23L661.59 140.75L662.28 148.68L662.97 157.03L663.66 165.83L664.35 175.08L665.04 184.82L665.73 195.06L666.43 205.83L667.12 217.16L667.81 229.07L668.5 241.59"/>
</g>
<path d="M391.9 7.4H668.4V262" fill="none" stroke="#505050" stroke-width="1.05"/>
<path d="M391.9 6.9V262H668.9" fill="none" stroke="#2c2c2c" stroke-width="1.05"/>
<path class="tk" d="M391.9 266.2V262M412.72 262V257.6M424.89 262V257.6M433.53 262V257.6M440.23 262V253.7M445.71 262V257.6M450.34 262V257.6M454.35 262V257.6M457.89 262V257.6M461.05 266.2V250M481.87 262V257.6M494.04 262V257.6M502.68 262V257.6M509.38 262V253.7M514.86 262V257.6M519.49 262V257.6M523.5 262V257.6M527.04 262V257.6M530.2 266.2V250M551.02 262V257.6M563.19 262V257.6M571.83 262V257.6M578.53 262V253.7M584.01 262V257.6M588.64 262V257.6M592.65 262V257.6M596.19 262V257.6M599.35 266.2V250M620.17 262V257.6M632.34 262V257.6M640.98 262V257.6M647.68 262V253.7M653.16 262V257.6M657.79 262V257.6M661.8 262V257.6M665.34 262V257.6M668.5 266.2V262M387.7 262H391.9M391.9 245.65H396.3M391.9 236.09H396.3M391.9 229.31H396.3M391.9 224.05H400.2M391.9 219.75H396.3M391.9 216.11H396.3M391.9 212.96H396.3M391.9 210.18H396.3M387.7 207.7H403.9M391.9 191.35H396.3M391.9 181.79H396.3M391.9 175.01H396.3M391.9 169.75H400.2M391.9 165.45H396.3M391.9 161.81H396.3M391.9 158.66H396.3M391.9 155.88H396.3M387.7 153.4H403.9M391.9 137.05H396.3M391.9 127.49H396.3M391.9 120.71H396.3M391.9 115.45H400.2M391.9 111.15H396.3M391.9 107.51H396.3M391.9 104.36H396.3M391.9 101.58H396.3M387.7 99.1H403.9M391.9 82.75H396.3M391.9 73.19H396.3M391.9 66.41H396.3M391.9 61.15H400.2M391.9 56.85H396.3M391.9 53.21H396.3M391.9 50.06H396.3M391.9 47.28H396.3M387.7 44.8H403.9M391.9 28.45H396.3M391.9 18.89H396.3M391.9 12.11H396.3"/>
<rect x="410.9" y="13.9" width="88.6" height="92" fill="#fff" stroke="#000" stroke-width="1.3"/>
<path class="cv" d="M421 33.6H440.2"/>
<path class="cv" d="M421 58.6H427.2M433.3 58.6H439.4"/>
<path class="cv" d="M420.8 85.1H422.3M426.8 85.1H428.3M432.8 85.1H434.3M438.7 85.1H440.2"/>
<text x="451.1" y="39.3" font-size="16.3" letter-spacing="0.5">HRS<tspan font-size="11.2" x="486.3" dy="-8.5">-</tspan></text>
<text x="451.1" y="63.3" font-size="16.3" letter-spacing="0.5">HRS<tspan font-size="11.2" x="486.2" dy="-8">+</tspan><tspan font-size="11.2" x="486.2" dy="13.6">1</tspan></text>
<text x="451.1" y="89.7" font-size="16.3" letter-spacing="0.5">HRS<tspan font-size="11.2" x="486.2" dy="-8">+</tspan><tspan font-size="11.2" x="486.2" dy="13.6">2</tspan></text>
<text x="380.6" y="281.9" font-size="13.3">10</text><text transform="translate(395.49 276.2) scale(1 1.06)" font-size="9.0">-3</text>
<text x="449.75" y="281.9" font-size="13.3">10</text><text transform="translate(464.64 276.2) scale(1 1.06)" font-size="9.0">-2</text>
<text x="518.9" y="281.9" font-size="13.3">10</text><text transform="translate(533.79 276.2) scale(1 1.06)" font-size="9.0">-1</text>
<text x="589.55" y="281.9" font-size="13.3">10</text><text transform="translate(604.44 276.2) scale(1 1.06)" font-size="9.0">0</text>
<text x="658.7" y="281.9" font-size="13.3">10</text><text transform="translate(673.59 276.2) scale(1 1.06)" font-size="9.0">1</text>
<text x="362.21" y="268.4" font-size="13.3">10</text><text transform="translate(377.1 261.8) scale(1 1.06)" font-size="9.0">-2</text>
<text x="362.21" y="214.1" font-size="13.3">10</text><text transform="translate(377.1 207.5) scale(1 1.06)" font-size="9.0">-1</text>
<text x="365.21" y="159.8" font-size="13.3">10</text><text transform="translate(380.1 153.2) scale(1 1.06)" font-size="9.0">0</text>
<text x="365.21" y="105.5" font-size="13.3">10</text><text transform="translate(380.1 98.9) scale(1 1.06)" font-size="9.0">1</text>
<text x="365.21" y="51.2" font-size="13.3">10</text><text transform="translate(380.1 44.6) scale(1 1.06)" font-size="9.0">2</text>
<text x="530.1" y="301.1" font-size="16.65" text-anchor="middle">Dose (Gy)</text>
<text transform="translate(354.3 129.6) rotate(-90)" font-size="16.65" text-anchor="middle">Number of deletions</text>
<text x="346.9" y="13.5" font-size="19.4" font-weight="bold">b</text>
</g>
</svg>
</body></html>
